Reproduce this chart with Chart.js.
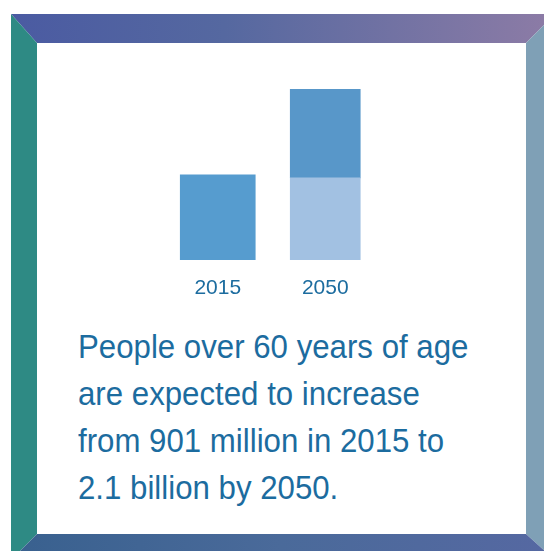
<!DOCTYPE html>
<html>
<head>
<meta charset="utf-8">
<script src="https://cdn.jsdelivr.net/npm/chart.js@4/dist/chart.umd.min.js"></script>
<style>
  html, body { margin: 0; padding: 0; background: #fff; }
  body { width: 544px; height: 551px; position: relative; overflow: hidden; }
  .band { position: absolute; left: 0; top: 0; width: 560px; height: 560px; }
  .top { background: linear-gradient(to right, #4a5aa2 0%, #5568a0 40%, #8e7ca6 100%);
         clip-path: polygon(11px 14px, 555px 14px, 526px 43px, 37px 43px); }
  .left { background: #2e8a84;
          clip-path: polygon(11px 14px, 37px 43px, 37px 534px, 11px 560px); }
  .right { background: #7fa0b6;
           clip-path: polygon(555px 14px, 555px 560px, 526px 534px, 526px 43px); }
  .bottom { background: linear-gradient(to right, #38608e 0%, #4a6a9a 50%, #5668a2 100%);
            clip-path: polygon(11px 560px, 37px 534px, 526px 534px, 555px 560px); }
  #chart { position: absolute; left: 144px; top: 79px; }
  .caption { position: absolute; left: 78px; top: 322.6px; font-family: 'Liberation Sans', Arial, sans-serif;
             font-size: 34px; line-height: 47.3px; color: #1c6c9f; white-space: nowrap;
             transform: scaleX(0.918); transform-origin: left top; }
</style>
</head>
<body>
<div class="band top"></div>
<div class="band left"></div>
<div class="band right"></div>
<div class="band bottom"></div>
<canvas id="chart" width="255" height="221"></canvas>
<div class="caption">People over 60 years of age<br>are expected to increase<br>from 901 million in 2015 to<br>2.1 billion by 2050.</div>
<script>
// people over 60, millions (bar heights)
const categories = ['2015', '2050'];
const values2015 = [901, null];
const values2050Base = [null, 870];
const values2050Added = [null, 940];

const ctx = document.getElementById('chart').getContext('2d');

new Chart(ctx, {
    type: 'bar',
    data: {
        labels: categories,
        datasets: [
            { label: '2015', data: values2015, backgroundColor: '#569ccf', barThickness: 75 },
            { label: '2050 base', data: values2050Base, backgroundColor: '#a2c1e2', barThickness: 70 },
            { label: '2050 increase', data: values2050Added, backgroundColor: '#5897c9', barThickness: 70 }
        ]
    },
    options: {
        responsive: false,
        animation: false,
        layout: { padding: { left: 20, right: 20, top: 10, bottom: 0 } },
        plugins: {
            legend: { display: false },
            tooltip: { enabled: false }
        },
        scales: {
            x: {
                stacked: true,
                grid: { display: false, drawTicks: false },
                border: { display: false },
                ticks: {
                    padding: 16,
                    color: '#1c6c9f',
                    font: { family: 'Liberation Sans', size: 21 }
                },
                afterFit: (scale) => { scale.height = 40; }
            },
            y: {
                stacked: true,
                display: false,
                min: 0,
                max: 1810
            }
        }
    }
});
</script>
</body>
</html>
